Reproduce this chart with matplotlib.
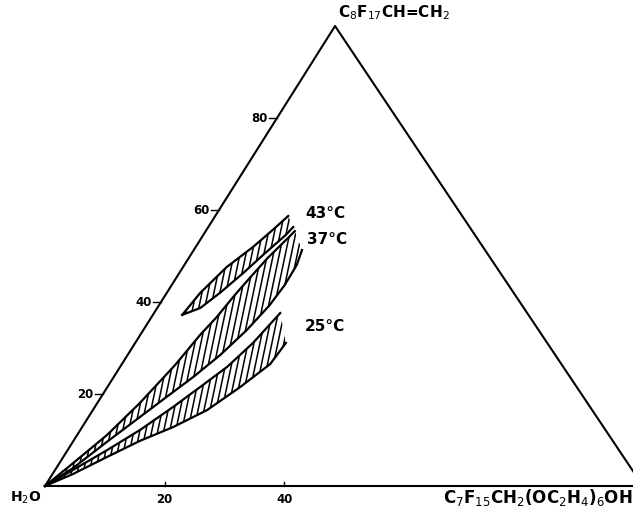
import numpy as np
import matplotlib.pyplot as plt
from matplotlib.patches import Polygon
from matplotlib.collections import LineCollection

# compositions: (% C7F15CH2(OC2H4)6OH, % C8F17CH=CH2), rest water
band_43_upper = [(4.9, 37.2), (5.6, 42.0), (7.3, 47.6), (9.6, 52.0), (11.1, 55.7), (12.2, 58.7)]
band_43_lower = [(4.9, 37.2), (7.2, 38.7), (8.9, 42.0), (10.7, 46.3), (12.1, 50.2), (13.8, 54.6), (14.2, 56.3)]

band_37_upper = [(0, 0), (2.3, 5.0), (5.0, 11.1), (7.1, 18.0), (9.0, 26.3), (10.0, 32.8), (10.9, 36.7),
                 (11.6, 41.5), (12.3, 45.2), (13.2, 49.6), (14.6, 54.3), (14.9, 55.4)]
band_37_lower = [(0, 0), (2.8, 3.9), (5.7, 9.6), (8.6, 15.0), (10.8, 19.1), (13.3, 23.7), (15.5, 28.5),
                 (17.3, 33.9), (18.5, 39.3), (18.9, 43.7), (18.8, 48.0), (18.1, 51.3)]

band_25_upper = [(0, 0), (3.0, 3.5), (6.6, 7.8), (10.0, 12.2), (13.1, 17.2), (15.5, 21.5), (17.9, 25.9),
                 (19.7, 31.1), (21.1, 37.6)]
band_25_lower = [(0, 0), (3.4, 2.6), (7.3, 6.3), (11.1, 9.8), (15.2, 12.8), (19.1, 16.5), (22.2, 21.5),
                 (24.8, 26.5), (25.2, 31.1)]

temps = ["43°C", "37°C", "25°C"]
temp_label_pos = [(14.7, 59.3), (17.9, 53.5), (26.7, 34.6)]

edge_ticks = [20, 40, 60, 80]
base_ticks = [20, 40]

SHEAR = 0.485  # apex sits a bit left of the middle in the scan


def tern(pts):
    pts = np.asarray(pts, dtype=float)
    return np.column_stack([pts[:, 0] + SHEAR * pts[:, 1], pts[:, 1]])


fig = plt.figure(figsize=(6.33, 5.11), dpi=100)
ax = fig.add_axes([0, 0, 1, 1])
ax.set_xlim(-45 / 5.98, (633 - 45) / 5.98)
ax.set_ylim(-25 / 4.6, 486 / 4.6)
ax.axis("off")

# triangle
tri = tern([(0, 0), (100, 0), (0, 100), (0, 0)])
ax.plot(tri[:, 0], tri[:, 1], color="black", lw=1.5)

# hatched bands
kx = (0.21 / 5.98) / (1 / 4.6)
for up, lo in [(band_43_upper, band_43_lower), (band_37_upper, band_37_lower),
               (band_25_upper, band_25_lower)]:
    u = tern(up)
    l = tern(lo)
    poly = np.vstack([u, l[::-1]])
    patch = Polygon(poly, closed=True, facecolor="none", edgecolor="none")
    ax.add_patch(patch)
    ymin, ymax = poly[:, 1].min(), poly[:, 1].max()
    xs = np.arange(poly[:, 0].min() - kx * (ymax - ymin) - 1, poly[:, 0].max() + 1, 1.0)
    segs = [[(x, ymin), (x + kx * (ymax - ymin), ymax)] for x in xs]
    lc = LineCollection(segs, colors="black", linewidths=1.1)
    ax.add_collection(lc)
    lc.set_clip_path(patch)
    ax.plot(u[:, 0], u[:, 1], color="black", lw=1.6)
    ax.plot(l[:, 0], l[:, 1], color="black", lw=1.6)

for t, p in zip(temps, temp_label_pos):
    xy = tern([p])[0]
    ax.text(xy[0], xy[1], t, fontsize=11, fontweight="bold", ha="left", va="center")

# ticks on the water-oil edge
for v in edge_ticks:
    x, y = tern([(0, v)])[0]
    ax.plot([x - 1.3, x], [y, y], color="black", lw=1.0)
    ax.text(x - 1.6, y, str(v), fontsize=8.5, fontweight="bold", ha="right", va="center")

# ticks on the base
for v in base_ticks:
    ax.plot([v, v], [0, 0.9], color="black", lw=1.0)
    ax.text(v, -3.0, str(v), fontsize=8.5, fontweight="bold", ha="center", va="center")

ax.text(-3.3, -2.6, r"H$_2$O", fontsize=10, fontweight="bold", ha="center", va="center")
ax.text(98.3, -2.4, r"C$_7$F$_{15}$CH$_2$(OC$_2$H$_4$)$_6$OH", fontsize=12,
        fontweight="bold", ha="right", va="center")
ax.text(49.0, 103.0, r"C$_8$F$_{17}$CH=CH$_2$", fontsize=11, fontweight="bold",
        ha="left", va="center")

fig.savefig("out.png", dpi=100, facecolor="white")
